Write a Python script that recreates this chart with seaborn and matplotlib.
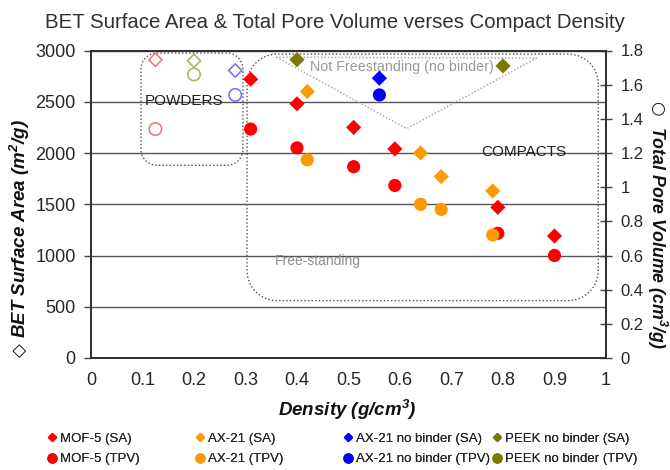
import numpy as np
import matplotlib
matplotlib.use("Agg")
import matplotlib.pyplot as plt
from matplotlib.lines import Line2D
import seaborn as sns

# ---------------- data ----------------
mof5_density = [0.31, 0.40, 0.51, 0.59, 0.79, 0.90]
mof5_sa = [2720, 2480, 2250, 2040, 1470, 1190]
mof5_tpv = [1.34, 1.23, 1.12, 1.01, 0.73, 0.60]

ax21_density = [0.42, 0.64, 0.68, 0.78]
ax21_sa = [2600, 2000, 1770, 1630]
ax21_tpv = [1.16, 0.90, 0.87, 0.72]

ax21nb_density = [0.56]
ax21nb_sa = [2730]
ax21nb_tpv = [1.54]

peek_density = [0.40, 0.80]
peek_sa = [2910, 2850]

# powders (open markers): MOF-5, PEEK, AX-21
powder_density = [0.125, 0.20, 0.28]
powder_sa = [2910, 2900, 2805]
powder_tpv = [1.34, 1.66, 1.54]

x_ticks = [0, 0.1, 0.2, 0.3, 0.4, 0.5, 0.6, 0.7, 0.8, 0.9, 1.0]
x_ticklabels = ["0", "0.1", "0.2", "0.3", "0.4", "0.5", "0.6", "0.7", "0.8", "0.9", "1"]
sa_ticks = [0, 500, 1000, 1500, 2000, 2500, 3000]
tpv_ticks = [0, 0.2, 0.4, 0.6, 0.8, 1.0, 1.2, 1.4, 1.6, 1.8]
tpv_ticklabels = ["0", "0.2", "0.4", "0.6", "0.8", "1", "1.2", "1.4", "1.6", "1.8"]

series_names = ["MOF-5", "AX-21", "AX-21 no binder", "PEEK no binder"]

RED = "#ff0000"
ORANGE = "#ff9900"
BLUE = "#0000ff"
OLIVE = "#7a7a00"
series_colors = [RED, ORANGE, BLUE, OLIVE]
powder_colors = ["#f07a7a", "#b0b070", "#7878e8"]

sns.set_style("white")
plt.rcParams["font.family"] = ["Liberation Sans", "DejaVu Sans"]

fig = plt.figure(figsize=(6.7, 4.7), dpi=100)
ax = fig.add_axes([91 / 670, 1 - 358 / 470, 515 / 670, 307.5 / 470])
ax2 = ax.twinx()

ax.set_xlim(0, 1)
ax.set_ylim(0, 3000)
ax2.set_ylim(0, 1.8)

ax.set_xticks(x_ticks)
ax.set_xticklabels(x_ticklabels, fontsize=13)
ax.set_yticks(sa_ticks)
ax.set_yticklabels([str(t) for t in sa_ticks], fontsize=13)
ax2.set_yticks(tpv_ticks)
ax2.set_yticklabels(tpv_ticklabels, fontsize=12)

ax.yaxis.grid(True, color="#555555", lw=1.0)
ax.xaxis.grid(False)
ax.set_axisbelow(True)
ax.tick_params(axis="y", direction="out", length=5, width=1, color="#404040", pad=6)
ax.tick_params(axis="x", direction="out", length=3, width=1, color="#404040", pad=7)
ax2.tick_params(axis="y", direction="inout", length=9, width=1, color="#404040", pad=6)
for a in (ax, ax2):
    for s in a.spines.values():
        s.set_color("#303030")
        s.set_linewidth(1.3)

# ---------------- rounded dotted boxes ----------------
def px_to_data(px_x, px_y):
    return px_x / 515.0 * 1.0, px_y / 307.5 * 3000.0

def rounded_box(a, x0, y0, x1, y1, r_px, **kw):
    rx, ry = px_to_data(r_px, r_px)
    pts = []
    corners = [(x1 - rx, y1 - ry, 0, 90), (x0 + rx, y1 - ry, 90, 180),
               (x0 + rx, y0 + ry, 180, 270), (x1 - rx, y0 + ry, 270, 360)]
    for cx, cy, a0, a1 in corners:
        t = np.radians(np.linspace(a0, a1, 20))
        pts.extend(zip(cx + rx * np.cos(t), cy + ry * np.sin(t)))
    pts.append(pts[0])
    xs, ys = zip(*pts)
    a.plot(xs, ys, **kw)

box_kw = dict(color="#505050", lw=1.0, linestyle=(0, (1, 1.6)), zorder=1)
rounded_box(ax, 0.097, 1880, 0.295, 2975, 16, **box_kw)
rounded_box(ax, 0.303, 560, 0.985, 2965, 30, **box_kw)

tri_x = [0.36, 0.613, 0.865, 0.36]
tri_y = [2935, 2238, 2925, 2935]
ax.plot(tri_x, tri_y, color="#a0a0a0", lw=1.0, linestyle=(0, (1, 1.5)), zorder=1)

ax.text(0.18, 2510, "POWDERS", fontsize=11, color="#202020", ha="center", va="center")
ax.text(0.84, 2005, "COMPACTS", fontsize=11, color="#202020", ha="center", va="center")
ax.text(0.604, 2835, "Not Freestanding (no binder)", fontsize=10.3, color="#999999",
        ha="center", va="center")
ax.text(0.44, 948, "Free-standing", fontsize=10, color="#909090", ha="center", va="center")

# ---------------- markers ----------------
D_S = 60
C_S = 90
sns.scatterplot(x=mof5_density, y=mof5_sa, ax=ax, marker="D", s=D_S, color=RED,
                edgecolor="none", zorder=3, legend=False)
sns.scatterplot(x=ax21_density, y=ax21_sa, ax=ax, marker="D", s=D_S, color=ORANGE,
                edgecolor="none", zorder=3, legend=False)
sns.scatterplot(x=ax21nb_density, y=ax21nb_sa, ax=ax, marker="D", s=D_S, color=BLUE,
                edgecolor="none", zorder=3, legend=False)
sns.scatterplot(x=peek_density, y=peek_sa, ax=ax, marker="D", s=D_S, color=OLIVE,
                edgecolor="none", zorder=3, legend=False)
for xd, yv, c in zip(powder_density, powder_sa, powder_colors):
    sns.scatterplot(x=[xd], y=[yv], ax=ax, marker="D", s=45, facecolors="none",
                    edgecolors=c, linewidths=1.2, zorder=3, legend=False)

sns.scatterplot(x=mof5_density, y=mof5_tpv, ax=ax2, marker="o", s=C_S, color=RED,
                edgecolor="none", zorder=3, legend=False)
sns.scatterplot(x=ax21_density, y=ax21_tpv, ax=ax2, marker="o", s=C_S, color=ORANGE,
                edgecolor="none", zorder=3, legend=False)
sns.scatterplot(x=ax21nb_density, y=ax21nb_tpv, ax=ax2, marker="o", s=C_S, color=BLUE,
                edgecolor="none", zorder=3, legend=False)
for xd, yv, c in zip(powder_density, powder_tpv, powder_colors):
    sns.scatterplot(x=[xd], y=[yv], ax=ax2, marker="o", s=80, facecolors="none",
                    edgecolors=c, linewidths=1.2, zorder=3, legend=False)

# ---------------- labels ----------------
fig.text(0.5, 1 - 23 / 470, "BET Surface Area & Total Pore Volume verses Compact Density",
         fontsize=14.7, color="#303030", ha="center", va="center")
lab_kw = dict(fontweight="bold", fontstyle="italic", color="#111111",
              ha="center", va="center")
fig.text(0.518, 1 - 410 / 470, "Density (g/cm$^\\mathregular{3}$)", fontsize=13.5, **lab_kw)
fig.text(20 / 670, 1 - 229 / 470, "BET Surface Area (m$^\\mathregular{2}$/g)",
         rotation=90, fontsize=13.5, **lab_kw)
fig.text(20 / 670, 1 - 350 / 470, "\u25c7", rotation=90, fontsize=13, family="DejaVu Sans",
         color="#111111", ha="center", va="center")
fig.text(657 / 670, 1 - 238 / 470, "Total Pore Volume (cm$^\\mathregular{3}$/g)",
         rotation=270, fontsize=12.8, **lab_kw)
fig.text(657 / 670, 1 - 108 / 470, "\u25cb", rotation=270, fontsize=12, family="DejaVu Sans",
         color="#111111", ha="center", va="center")

# ---------------- legend ----------------
leg_x = [48 / 670, 196 / 670, 344 / 670, 493 / 670]
for i, (n, c) in enumerate(zip(series_names, series_colors)):
    handles = [Line2D([], [], marker="D", color=c, linestyle="none", markersize=4.5),
               Line2D([], [], marker="o", color=c, linestyle="none", markersize=6.5)]
    labels = [f"{n} (SA)", f"{n} (TPV)"]
    leg = fig.legend(handles, labels, loc="center left",
                     bbox_to_anchor=(leg_x[i], 1 - 449 / 470), frameon=False,
                     fontsize=9.5, handlelength=0.6, handletextpad=0.3,
                     labelspacing=0.6, borderpad=0, borderaxespad=0)
    fig.add_artist(leg)

fig.savefig("out.png", dpi=100)
